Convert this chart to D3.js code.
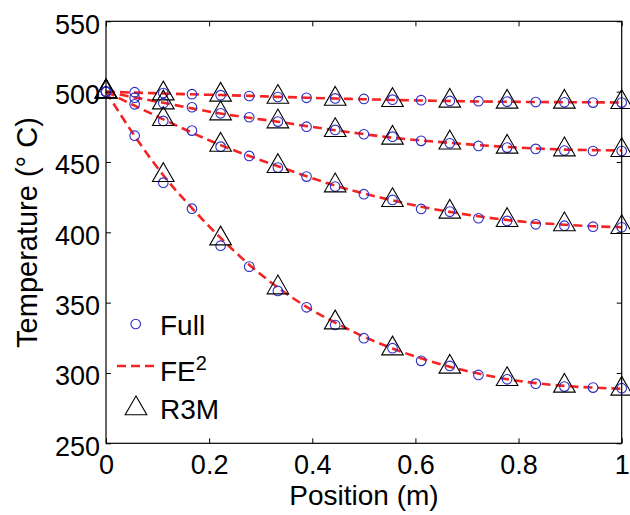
<!DOCTYPE html>
<html><head><meta charset="utf-8">
<script src="https://cdn.jsdelivr.net/npm/d3@7"></script>
<style>
html,body{margin:0;padding:0;background:#fff;}
text{font-family:"Liberation Sans",Arial,Helvetica,sans-serif;fill:#000;}
</style></head>
<body>
<svg id="chart" width="630" height="515"></svg>
<script>
// ---- data ----
const fullX = [0,1/18,2/18,3/18,4/18,5/18,6/18,7/18,8/18,9/18,10/18,11/18,12/18,13/18,14/18,15/18,16/18,17/18,1];
const full1 = [500,499.6,499,498.2,497.5,496.9,496.2,495.6,495.2,494.8,494.3,493.9,493.4,493.2,492.9,492.6,492.4,492.2,492.2];
const full2 = [500,495.7,491.8,488.9,484.6,481.8,478.7,475.1,472.8,469.7,468,465,463.3,461.4,460.2,459.3,458.1,457.8,457.8];
const full3 = [500,491,479.2,472.3,460.9,454.3,446,439.6,432.5,427.1,423,416.6,414.7,410,408.1,405.7,404.7,404,403.6];
const full4 = [500,468.7,435.3,416.8,390.5,375.6,358.3,346.7,334.1,324.7,317.6,308.6,305,298.6,295.5,292.4,290.3,289.6,289.2];

const fe2X = fullX;
const fe2_1 = [500,499.3,498.7,498.1,497.6,497.0,496.3,495.7,495.1,494.6,494.1,493.7,493.3,493.0,492.8,492.6,492.5,492.4,492.3];
const fe2_2 = [500,495.9,492.1,488.1,484.4,481.4,478.6,475.5,472.6,469.8,467.2,465.3,463.6,462.0,460.7,459.6,458.8,458.4,458.2];
const fe2_3 = [500,490.0,480.3,470.8,462.0,454.2,447.0,439.8,433.2,427.6,422.7,418.2,414.5,411.4,408.7,406.8,405.4,404.3,403.6];
const fe2_4 = [500,468.5,440.6,417.2,396.0,377.0,360.7,347.0,335.8,325.8,317.4,310.4,304.4,299.6,295.6,292.8,290.8,289.6,288.8];

const r3mX = [0,1/9,2/9,3/9,4/9,5/9,6/9,7/9,8/9,1];
const r3m1 = [500,498.6,497.7,496.2,494.8,493.9,493.4,492.7,492.7,492.5];
const r3m2 = [500,492.2,484.4,478.7,472.5,467.1,463.7,460.7,458.8,458.3];
const r3m3 = [500,480.4,462.1,447,433.2,422.8,414.5,408.6,405.5,403.6];
const r3m4 = [500,440.6,395.5,360.7,335.8,317.3,304.3,295.5,290.8,288.7];

const xTicks = [0,0.2,0.4,0.6,0.8,1];
const xTickLabels = ["0","0.2","0.4","0.6","0.8","1"];
const yTicks = [250,300,350,400,450,500,550];
const legendLabels = ["Full","FE","R3M"];

// ---- layout ----
const svg = d3.select("#chart");
const L = 106, R = 621.7, T = 21.3, B = 443.3;
const x = d3.scaleLinear().domain([0,1]).range([L,R]);
const y = d3.scaleLinear().domain([250,550]).range([B,T]);

const blue = "#2c2cc4", red = "#f52424";

// FE2 dashed lines
const line = d3.line().x(d=>x(d[0])).y(d=>y(d[1])).curve(d3.curveMonotoneX);
[fe2_1,fe2_2,fe2_3,fe2_4].forEach(s=>{
  svg.append("path").attr("d", line(fe2X.map((v,i)=>[v,s[i]])))
    .attr("fill","none").attr("stroke",red).attr("stroke-width",2.6)
    .attr("stroke-dasharray","9,5");
});

// Full circles
[full1,full2,full3,full4].forEach(s=>{
  svg.append("g").selectAll("circle").data(fullX.map((v,i)=>[v,s[i]])).join("circle")
    .attr("cx",d=>x(d[0])).attr("cy",d=>y(d[1])).attr("r",4.8)
    .attr("fill","none").attr("stroke",blue).attr("stroke-width",1.1);
});

// R3M triangles (centroid at data point)
const tri = "M0,-12.5L10.8,6.25L-10.8,6.25Z";
[r3m1,r3m2,r3m3,r3m4].forEach(s=>{
  svg.append("g").selectAll("path").data(r3mX.map((v,i)=>[v,s[i]])).join("path")
    .attr("d",tri).attr("transform",d=>`translate(${x(d[0])},${y(d[1])})`)
    .attr("fill","none").attr("stroke","#000").attr("stroke-width",1.1);
});

// axes box
svg.append("rect").attr("x",L).attr("y",T).attr("width",R-L).attr("height",B-T)
  .attr("fill","none").attr("stroke","#000").attr("stroke-width",1.2);

const tl = 5;
const xb = d3.axisBottom(x).tickValues(xTicks).tickSize(-tl).tickFormat((d,i)=>xTickLabels[i]);
const xt = d3.axisTop(x).tickValues(xTicks).tickSize(-tl).tickFormat("");
const yl = d3.axisLeft(y).tickValues(yTicks).tickSize(-tl).tickFormat(d3.format("d"));
const yr = d3.axisRight(y).tickValues(yTicks).tickSize(-tl).tickFormat("");

const gxb = svg.append("g").attr("transform",`translate(0,${B})`).call(xb);
svg.append("g").attr("transform",`translate(0,${T})`).call(xt);
const gyl = svg.append("g").attr("transform",`translate(${L},0)`).call(yl);
svg.append("g").attr("transform",`translate(${R},0)`).call(yr);
svg.selectAll(".domain").remove();
svg.selectAll(".tick line").attr("stroke","#000").attr("stroke-width",1);

gxb.selectAll(".tick text").attr("y",31).attr("dy",null)
  .style("font-size","27px").style("font-family","Liberation Sans, Arial, sans-serif").attr("fill","#000");
gyl.selectAll(".tick text").attr("x",-6).attr("dy",null).attr("y",12)
  .style("font-size","27px").style("font-family","Liberation Sans, Arial, sans-serif").attr("fill","#000");

// axis titles
svg.append("text").attr("x",364).attr("y",505).attr("text-anchor","middle")
  .style("font-size","28px").text("Position (m)");
svg.append("text").attr("transform","translate(36.5,232.5) rotate(-90)").attr("text-anchor","middle")
  .style("font-size","29px").text("Temperature (° C)");

// legend
const lg = svg.append("g");
lg.append("circle").attr("cx",135.7).attr("cy",324).attr("r",4.8)
  .attr("fill","none").attr("stroke",blue).attr("stroke-width",1.1);
lg.append("text").attr("x",160).attr("y",335).style("font-size","28px").text(legendLabels[0]);
lg.append("line").attr("x1",117).attr("x2",156).attr("y1",366).attr("y2",366)
  .attr("stroke",red).attr("stroke-width",2.6).attr("stroke-dasharray","9,5");
const fe = lg.append("text").attr("x",160).attr("y",380.5).style("font-size","28px");
fe.append("tspan").text(legendLabels[1]);
fe.append("tspan").attr("dy",-11).style("font-size","20px").text("2");
lg.append("path").attr("d",tri).attr("transform","translate(136,408.5)")
  .attr("fill","none").attr("stroke","#000").attr("stroke-width",1.1);
lg.append("text").attr("x",160).attr("y",419).style("font-size","28px").text(legendLabels[2]);
</script>
</body></html>
